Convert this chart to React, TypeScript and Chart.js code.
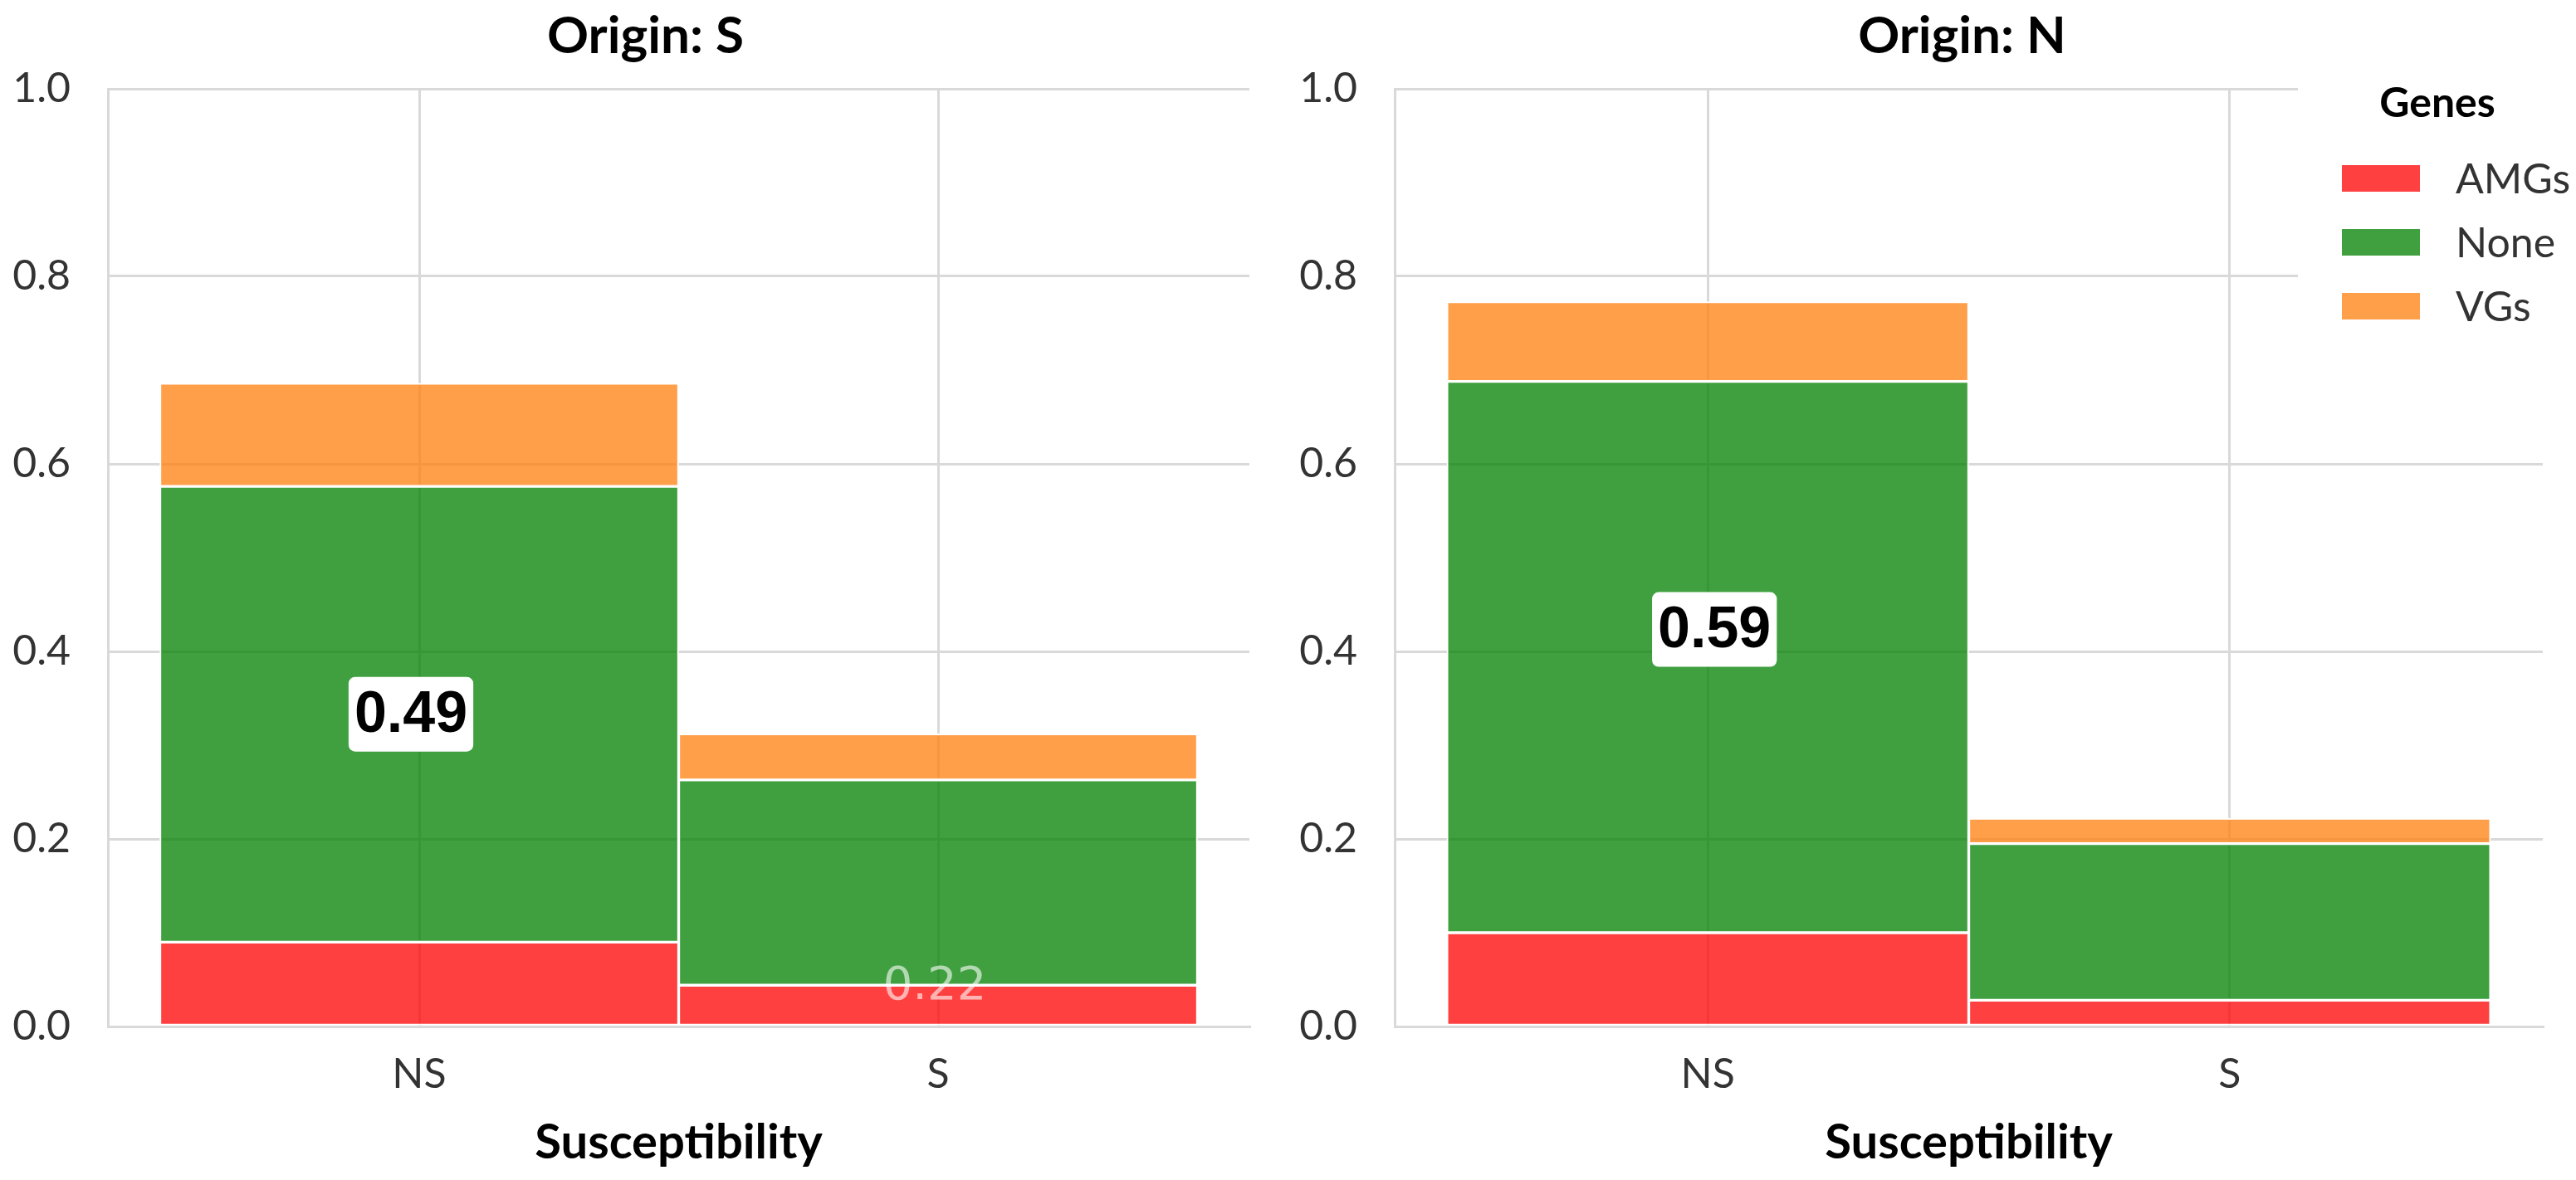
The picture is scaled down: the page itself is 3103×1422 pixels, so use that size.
import { useEffect, useRef } from 'react';
import { Chart, registerables } from 'chart.js';

Chart.register(...registerables);

// ---- data ----
const CATEGORIES = ['NS', 'S'];
const GENES = ['AMGs', 'None', 'VGs'];
const PANEL_TITLES = ['Origin: S', 'Origin: N'];
const X_TITLE = 'Susceptibility';
const LEGEND_TITLE = 'Genes';
const Y_TICKS = [0, 0.2, 0.4, 0.6, 0.8, 1.0];

const S_AMGS = [0.09, 0.044];
const S_NONE = [0.486, 0.219];
const S_VGS = [0.11, 0.049];

const N_AMGS = [0.1, 0.028];
const N_NONE = [0.588, 0.167];
const N_VGS = [0.085, 0.027];

// ---- style ----
const GENE_COLORS = ['rgba(255,0,0,0.75)', 'rgba(0,128,0,0.75)', 'rgba(255,127,14,0.75)'];
const GRID = '#d9d9d9';
const TICK_COLOR = '#333333';
const FONT = 'Lato';

const panelTitlePlugin = {
  id: 'panelTitle',
  afterDraw(chart: any, _args: any, opts: any) {
    if (!opts || !opts.text) return;
    const ctx = chart.ctx;
    const ca = chart.chartArea;
    ctx.save();
    ctx.fillStyle = '#000000';
    ctx.font = `bold 62px ${FONT}`;
    ctx.textAlign = 'center';
    ctx.textBaseline = 'middle';
    ctx.fillText(opts.text, (ca.left + ca.right) / 2 + (opts.dx || 0), opts.y);
    ctx.restore();
  },
};

const valueLabelsPlugin = {
  id: 'valueLabels',
  afterDatasetsDraw(chart: any, _args: any, opts: any) {
    const items = (opts && opts.items) || [];
    const ctx = chart.ctx;
    const xs = chart.scales.x;
    const ys = chart.scales.y;
    for (const it of items) {
      const dsets = chart.data.datasets;
      let base = 0;
      for (let k = 0; k < it.dataset; k++) base += dsets[k].data[it.index].y;
      const v = dsets[it.dataset].data[it.index].y;
      const px = xs.getPixelForValue(it.index) + (it.dx || 0);
      const py = ys.getPixelForValue(base + v * it.at);
      const text = v.toFixed(2);
      ctx.save();
      if (it.boxed) {
        ctx.font = `bold 70px "Liberation Sans", Arial, sans-serif`;
        const w = ctx.measureText(text).width + 14;
        const h = 90;
        ctx.fillStyle = '#ffffff';
        ctx.beginPath();
        if ((ctx as any).roundRect) (ctx as any).roundRect(px - w / 2, py - h / 2, w, h, 8);
        else ctx.rect(px - w / 2, py - h / 2, w, h);
        ctx.fill();
        ctx.fillStyle = '#000000';
      } else {
        ctx.font = `56px "DejaVu Sans", sans-serif`;
        ctx.fillStyle = 'rgba(255,255,255,0.6)';
      }
      ctx.textAlign = 'center';
      ctx.textBaseline = 'middle';
      ctx.fillText(text, px, py + 2);
      ctx.restore();
    }
  },
};

const geneLegendPlugin = {
  id: 'geneLegend',
  afterDraw(chart: any, _args: any, opts: any) {
    if (!opts || !opts.show) return;
    const ctx = chart.ctx;
    const r = chart.chartArea.right;
    const t = chart.chartArea.top;
    ctx.save();
    ctx.fillStyle = '#ffffff';
    ctx.fillRect(r - 295, t - 27, chart.width - (r - 295), 340);
    ctx.fillStyle = '#000000';
    ctx.font = `bold 50px ${FONT}`;
    ctx.textAlign = 'center';
    ctx.textBaseline = 'middle';
    ctx.fillText(LEGEND_TITLE, r - 127, t + 18);
    const rows = [108, 185, 262];
    chart.data.datasets.forEach((ds: any, i: number) => {
      const cy = t + rows[i];
      ctx.fillStyle = ds.backgroundColor;
      ctx.fillRect(r - 242, cy - 16, 94, 32);
      ctx.fillStyle = TICK_COLOR;
      ctx.font = `50px ${FONT}`;
      ctx.textAlign = 'left';
      ctx.textBaseline = 'middle';
      ctx.fillText(ds.label, r - 105, cy + 2);
    });
    ctx.restore();
  },
};

type PanelProps = {
  title: string;
  titleDx: number;
  amgs: number[];
  none: number[];
  vgs: number[];
  left: number;
  width: number;
  padRight: number;
  yWidth: number;
  labels: any[];
  legend: boolean;
};

function Panel(p: PanelProps) {
  const ref = useRef<HTMLCanvasElement | null>(null);
  useEffect(() => {
    if (!ref.current) return;
    const series = [p.amgs, p.none, p.vgs];
    const chart = new Chart(ref.current, {
      type: 'bar',
      data: {
        datasets: GENES.map((g, gi) => ({
          label: g,
          data: CATEGORIES.map((_, i) => ({ x: i, y: series[gi][i] })),
          backgroundColor: GENE_COLORS[gi],
          borderColor: '#ffffff',
          borderWidth: 2,
          borderSkipped: false,
          categoryPercentage: 1,
          barPercentage: 1,
        })),
      },
      options: {
        responsive: false,
        animation: false,
        devicePixelRatio: 1,
        layout: { padding: { left: 0, right: p.padRight, top: 107, bottom: 0 } },
        plugins: {
          legend: { display: false },
          tooltip: { enabled: false },
          title: { display: false },
          panelTitle: { text: p.title, dx: p.titleDx, y: 44 },
          valueLabels: { items: p.labels },
          geneLegend: { show: p.legend },
        } as any,
        scales: {
          x: {
            type: 'linear',
            min: -0.6,
            max: 1.6,
            offset: false,
            stacked: true,
            afterBuildTicks: (s: any) => {
              s.ticks = CATEGORIES.map((_, i) => ({ value: i }));
            },
            afterFit: (s: any) => {
              s.height = 185;
            },
            ticks: {
              callback: (v: any) => CATEGORIES[v as number] ?? '',
              color: TICK_COLOR,
              font: { family: FONT, size: 50 },
              padding: 28,
              autoSkip: false,
              maxRotation: 0,
            },
            grid: { color: GRID, lineWidth: 3, drawTicks: false, offset: false },
            border: { display: true, color: GRID, width: 3 },
            title: {
              display: true,
              text: X_TITLE,
              color: '#000000',
              font: { family: FONT, size: 58, weight: 'bold', lineHeight: 1.2 },
              padding: { top: 0, bottom: 10 },
            },
          },
          y: {
            type: 'linear',
            min: 0,
            max: 1,
            stacked: true,
            afterBuildTicks: (s: any) => {
              s.ticks = Y_TICKS.map((v) => ({ value: v }));
            },
            afterFit: (s: any) => {
              s.width = p.yWidth;
            },
            ticks: {
              callback: (v: any) => Number(v).toFixed(1),
              color: TICK_COLOR,
              font: { family: FONT, size: 50 },
              padding: 45,
            },
            grid: { color: GRID, lineWidth: 3, drawTicks: false },
            border: { display: true, color: GRID, width: 3 },
          },
        } as any,
      },
      plugins: [valueLabelsPlugin, geneLegendPlugin, panelTitlePlugin],
    } as any);
    return () => chart.destroy();
  }, []);
  return (
    <canvas
      ref={ref}
      width={p.width}
      height={1422}
      style={{ position: 'absolute', left: p.left, top: 0, width: p.width, height: 1422, display: 'block' }}
    />
  );
}

export default function App() {
  useEffect(() => {
    document.body.style.margin = '0';
    document.body.style.background = '#ffffff';
  }, []);
  return (
    <div style={{ position: 'relative', width: 3103, height: 1422, background: '#ffffff', overflow: 'hidden' }}>
      <Panel
        title={PANEL_TITLES[0]}
        titleDx={-40}
        amgs={S_AMGS}
        none={S_NONE}
        vgs={S_VGS}
        left={0}
        width={1560}
        padRight={55}
        yWidth={130}
        labels={[
          { dataset: 1, index: 0, boxed: true, at: 0.5, dx: -10 },
          { dataset: 1, index: 1, boxed: false, at: 0.0, dx: -4 },
        ]}
        legend={false}
      />
      <Panel
        title={PANEL_TITLES[1]}
        titleDx={-8}
        amgs={N_AMGS}
        none={N_NONE}
        vgs={N_VGS}
        left={1560}
        width={1543}
        padRight={40}
        yWidth={120}
        labels={[{ dataset: 1, index: 0, boxed: true, at: 0.55, dx: 8 }]}
        legend={true}
      />
    </div>
  );
}
